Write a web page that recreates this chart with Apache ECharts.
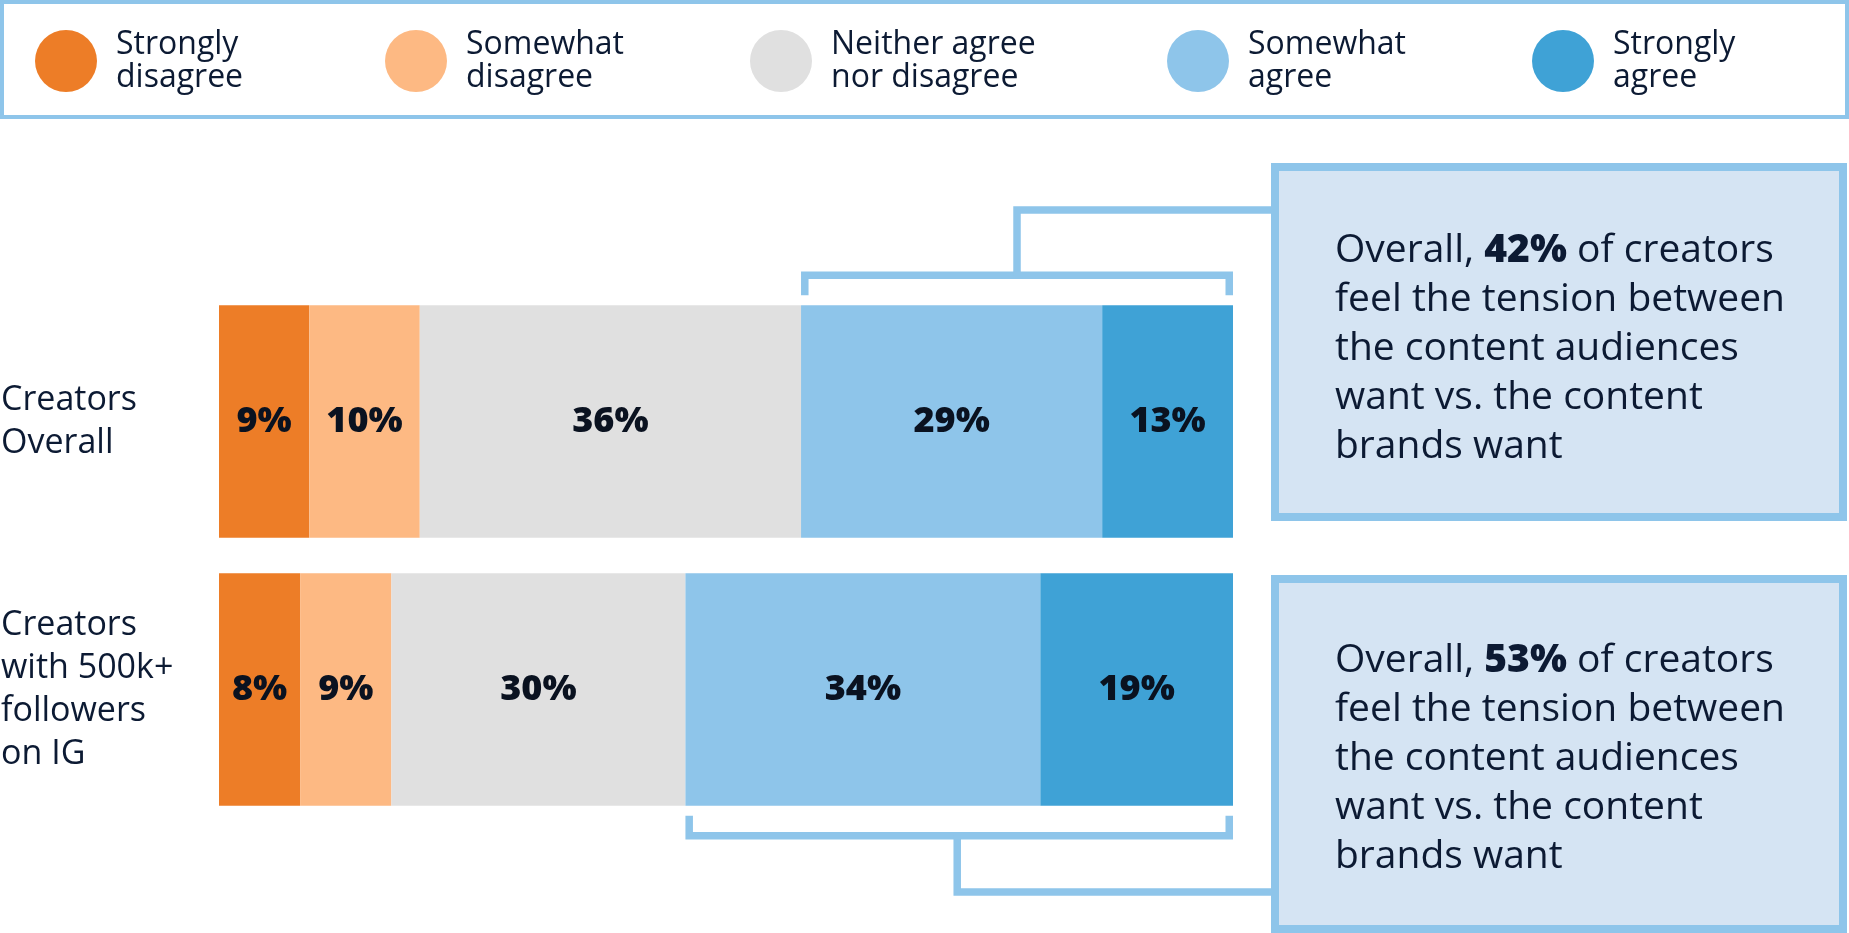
<!DOCTYPE html>
<html>
<head>
<meta charset="utf-8">
<script src="https://cdn.jsdelivr.net/npm/echarts@6/dist/echarts.min.js"></script>
<style>
  html, body { margin: 0; padding: 0; background: #fff; }
  #chart { width: 1849px; height: 933px; }
</style>
</head>
<body>
<div id="chart"></div>
<script>
// rows, top to bottom
const categories = ['Creators\nOverall', 'Creators\nwith 500k+\nfollowers\non IG'];
const responses = ['Strongly disagree', 'Somewhat disagree', 'Neither agree nor disagree', 'Somewhat agree', 'Strongly agree'];
const legendLabels = ['Strongly\ndisagree', 'Somewhat\ndisagree', 'Neither agree\nnor disagree', 'Somewhat\nagree', 'Strongly\nagree'];
const colors = ['#ed7d27', '#fdb983', '#e0e0e0', '#8ec5ea', '#3fa2d6'];

// bar lengths as drawn (share of the row)
const shareOverall = [8.9, 10.9, 37.6, 29.7, 12.9];
const shareLarge = [8.0, 9.0, 29.0, 35.0, 19.0];
// percentages printed on the bars
const pctOverall = [9, 10, 36, 29, 13];
const pctLarge = [8, 9, 30, 34, 19];

const shares = [shareOverall, shareLarge];
const pcts = [pctOverall, pctLarge];

const FONT = '"Open Sans", Lato, sans-serif';
const INK = '#0c1a33';
const LINE = '#8ec5ea';
const BAR_W = 232.5;

const chart = echarts.init(document.getElementById('chart'));

const legendLeft = [35, 385, 750, 1167, 1532];
const legends = responses.map((name, i) => ({
    data: [name],
    left: legendLeft[i],
    top: 28,
    padding: 0,
    orient: 'horizontal',
    icon: 'circle',
    itemWidth: 62,
    itemHeight: 62,
    selectedMode: false,
    formatter: () => legendLabels[i],
    textStyle: {
        fontFamily: FONT,
        fontSize: 32,
        lineHeight: 33,
        color: INK,
        padding: [0, 0, 0, 14]
    }
}));

const series = responses.map((name, i) => ({
    name: name,
    type: 'bar',
    stack: 'all',
    barWidth: BAR_W,
    itemStyle: { color: colors[i] },
    label: {
        show: true,
        position: 'inside',
        fontFamily: FONT,
        fontSize: 36,
        fontWeight: 800,
        color: '#0a1220',
        formatter: p => pcts[p.dataIndex][i] + '%'
    },
    emphasis: { disabled: true },
    data: shares.map(row => row[i])
}));

chart.setOption({
    animation: false,
    legend: legends,
    grid: { left: 219, right: 616, top: 287.5, bottom: 109.5, outerBoundsMode: 'none', containLabel: false },
    xAxis: {
        type: 'value',
        min: 0,
        max: 100,
        show: false
    },
    yAxis: {
        type: 'category',
        inverse: true,
        data: categories,
        axisLine: { show: false },
        axisTick: { show: false },
        axisLabel: {
            align: 'left',
            margin: 218,
            fontFamily: FONT,
            fontSize: 34,
            lineHeight: 43,
            color: INK
        }
    },
    series: series
});

// brackets + callouts, placed from the bars' own pixel positions
function sum(arr, n) {
    let s = 0;
    for (let i = 0; i < n; i++) s += arr[i];
    return s;
}

const lw = 7.5;
const boxLeft = 1271;
const graphics = [];

// legend frame
graphics.push({
    type: 'rect',
    shape: { x: 2, y: 2, width: 1845, height: 115 },
    style: { fill: 'none', stroke: LINE, lineWidth: 4 },
    z: 0
});

const callY = [210, 892];
const boxTop = [167, 579];
const textTop = [226, 636];

for (let r = 0; r < 2; r++) {
    const a = chart.convertToPixel({ gridIndex: 0 }, [sum(shares[r], 3), r]);
    const b = chart.convertToPixel({ gridIndex: 0 }, [100, r]);
    const x0 = a[0] + lw / 2;
    const x1 = b[0] - lw / 2;
    const dir = r === 0 ? -1 : 1;
    const edge = a[1] + dir * BAR_W / 2;
    const yH = edge + dir * 30;
    const yT = edge + dir * 10;
    const mid = (a[0] + b[0]) / 2 - 2 * r;

    graphics.push({
        type: 'polyline',
        shape: { points: [[x0, yT], [x0, yH], [x1, yH], [x1, yT]] },
        style: { fill: 'none', stroke: LINE, lineWidth: lw, lineJoin: 'miter' },
        z: 5
    });
    graphics.push({
        type: 'polyline',
        shape: { points: [[mid, yH], [mid, callY[r]], [boxLeft + 4, callY[r]]] },
        style: { fill: 'none', stroke: LINE, lineWidth: lw, lineJoin: 'miter' },
        z: 5
    });
    graphics.push({
        type: 'rect',
        shape: { x: 1275, y: boxTop[r], width: 568, height: 350 },
        style: { fill: '#d5e4f3', stroke: LINE, lineWidth: 8 },
        z: 6
    });
    const agree = pcts[r][3] + pcts[r][4];
    graphics.push({
        type: 'text',
        x: 1335,
        y: textTop[r],
        z: 7,
        style: {
            text: 'Overall, {b|' + agree + '%} of creators\nfeel the tension between\nthe content audiences\nwant vs. the content\nbrands want',
            fontFamily: FONT,
            fontSize: 39,
            lineHeight: 49,
            fill: INK,
            verticalAlign: 'top',
            rich: {
                b: { fontFamily: FONT, fontSize: 39, lineHeight: 49, fontWeight: 800, fill: INK }
            }
        }
    });
}

chart.setOption({ graphic: graphics });
</script>
</body>
</html>
